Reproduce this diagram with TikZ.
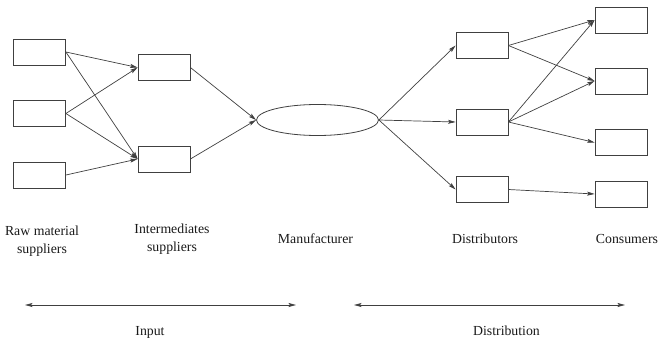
\documentclass[tikz,border=0pt]{standalone}
\usepackage{fontspec}
\setmainfont{Liberation Serif}
\usetikzlibrary{arrows.meta,shapes.geometric}
\tikzset{>={Stealth[length=7.5pt,width=4pt,inset=1.5pt]}}
\tikzset{
	stage/.style={draw, minimum width=52pt, minimum height=26pt, inner sep=0pt},
	flow/.style={->, line width=0.7pt},
	caption/.style={align=center, text=black!90, font=\fontsize{13.8}{18}\selectfont}
}

\begin{document}
\begin{tikzpicture}[x=1pt, y=-1pt, line width=0.8pt, color=black!75]
		\useasboundingbox (0,0) rectangle (660,342);
		% suppliers
		\node[stage] (raw1) at (39.5,52) {};
		\node[stage] (raw2) at (39.5,113.5) {};
		\node[stage] (raw3) at (39.5,175) {};
		\node[stage] (mid1) at (164,67.5) {};
		\node[stage] (mid2) at (164,159) {};
		% manufacturer
		\node[draw, ellipse, minimum width=122pt, minimum height=31pt, inner sep=0pt] (maker) at (317.5,120) {};
		% distribution
		\node[stage] (dist1) at (482,45.5) {};
		\node[stage] (dist2) at (482,122) {};
		\node[stage] (dist3) at (482,189.5) {};
		\node[stage] (cons1) at (621,20) {};
		\node[stage] (cons2) at (621,81) {};
		\node[stage] (cons3) at (621,142.5) {};
		\node[stage] (cons4) at (621,194) {};

		\draw[flow] (raw1.east) -- (mid1.west);
		\draw[flow] (raw1.east) -- (mid2.west);
		\draw[flow] (raw2.east) -- (mid1.west);
		\draw[flow] (raw2.east) -- (mid2.west);
		\draw[flow] (raw3.east) -- (mid2.west);
		\draw[flow] (mid1.east) -- (maker.west);
		\draw[flow] (mid2.east) -- (maker.west);
		\draw[flow] (maker.east) -- (dist1.west);
		\draw[flow] (maker.east) -- (dist2.west);
		\draw[flow] (maker.east) -- (dist3.west);
		\draw[flow] (dist1.east) -- (cons1.west);
		\draw[flow] (dist1.east) -- (cons2.west);
		\draw[flow] (dist2.east) -- (cons1.west);
		\draw[flow] (dist2.east) -- (cons2.west);
		\draw[flow] (dist2.east) -- (cons3.west);
		\draw[flow] (dist3.east) -- (cons4.west);

		% stage names
		\node[caption] (rawname) at (42,241) {Raw material\\suppliers};
		\node[caption] (midname) at (172,239) {Intermediates\\suppliers};
		\node[caption] (makername) at (315.5,239) {Manufacturer};
		\node[caption] (distname) at (485,239) {Distributors};
		\node[caption] (consname) at (627,239) {Consumers};

		% spans
		\coordinate (inleft) at (25,305);
		\coordinate (inright) at (296,305);
		\coordinate (outleft) at (354,305);
		\coordinate (outright) at (625,305);
		\draw[<->, line width=0.7pt] (inleft) -- (inright);
		\draw[<->, line width=0.7pt] (outleft) -- (outright);
		\node[caption] (inname) at (150,332) {Input};
		\node[caption] (outname) at (506.5,331) {Distribution};
	\end{tikzpicture}
\end{document}
